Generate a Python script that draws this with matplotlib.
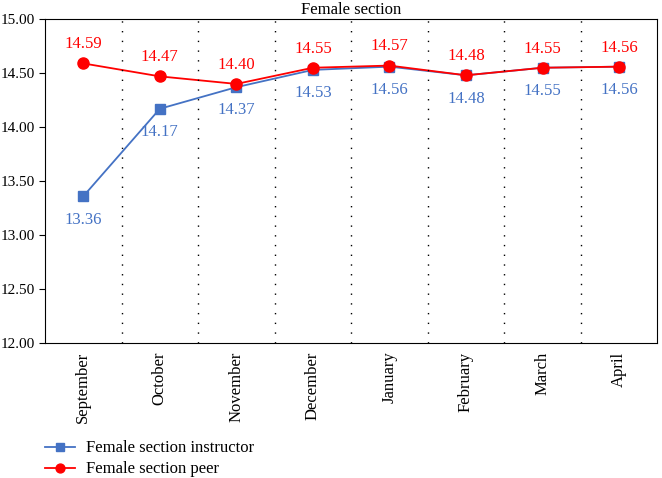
import matplotlib.pyplot as plt
import numpy as np

plt.rcParams['font.family'] = ['Liberation Serif', 'DejaVu Serif']

months = ['September', 'October', 'November', 'December', 'January', 'February', 'March', 'April']
instructor = [13.36, 14.17, 14.37, 14.53, 14.56, 14.48, 14.55, 14.56]
peer = [14.59, 14.47, 14.40, 14.55, 14.57, 14.48, 14.55, 14.56]

blue = '#4472C4'
red = '#FF0000'

fig = plt.figure(figsize=(6.62, 4.78), dpi=100)
ax = fig.add_axes([0.068, 0.282, 0.925, 0.678])

x = np.arange(len(months))
ax.plot(x, instructor, color=blue, marker='s', markersize=7, lw=1.3, label='Female section instructor')
ax.plot(x, peer, color=red, marker='o', markersize=8, lw=1.3, label='Female section peer')

for i in range(len(months)):
    ax.annotate('%.2f' % peer[i], (x[i], peer[i]), xytext=(0, 8), textcoords='offset points',
                ha='center', va='bottom', color=red, fontsize=12)
    ax.annotate('%.2f' % instructor[i], (x[i], instructor[i]), xytext=(0, -11), textcoords='offset points',
                ha='center', va='top', color=blue, fontsize=12)

# dotted separators between months
for b in np.arange(0.5, len(months) - 1, 1):
    ax.axvline(b, color='black', lw=1, ls=(0, (1, 6)))

ax.set_xlim(-0.5, len(months) - 0.5)
ax.set_ylim(12, 15)
ax.set_yticks(np.arange(12, 15.01, 0.5))
ax.yaxis.set_major_formatter(plt.FormatStrFormatter('%.2f'))
ax.set_xticks(x)
ax.set_xticklabels(months, rotation=90, fontsize=12)
ax.tick_params(axis='y', labelsize=11, length=4, direction='out', pad=3)
ax.tick_params(axis='x', length=0, pad=6)
ax.set_title('Female section', fontsize=12, pad=4)

fig.legend(loc='lower left', bbox_to_anchor=(0.045, -0.03), frameon=False, fontsize=12,
           handlelength=1.8, handletextpad=0.7, labelspacing=0.3, markerscale=0.8)

fig.savefig('out.png', dpi=100)
